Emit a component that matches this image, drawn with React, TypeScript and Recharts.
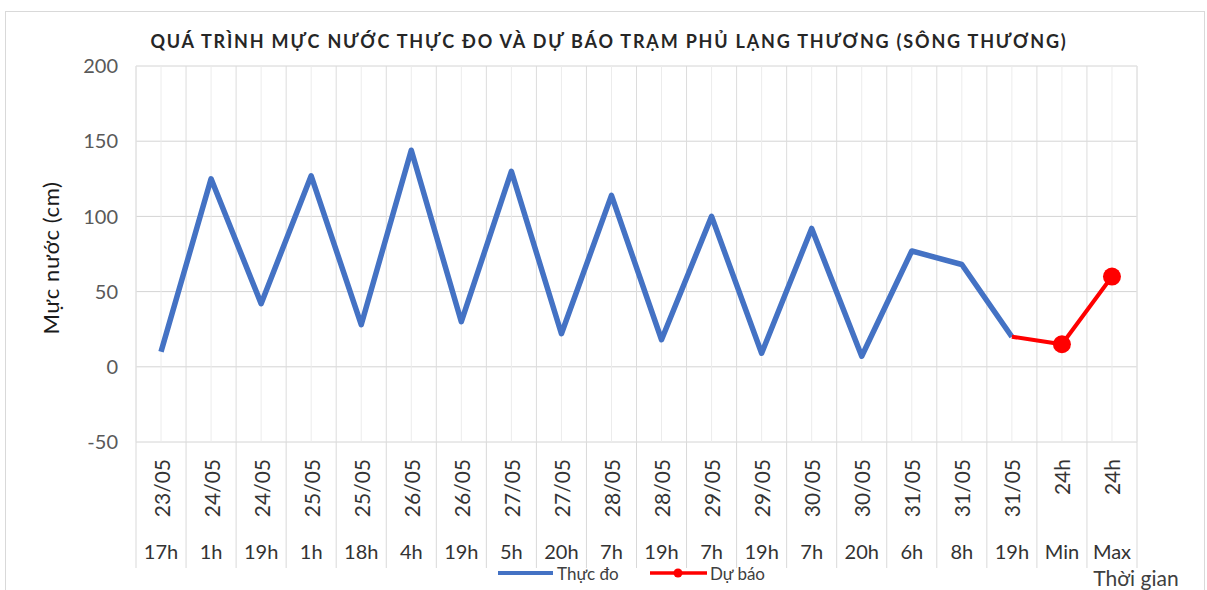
import React from "react";
import {
  LineChart,
  Line,
  XAxis,
  YAxis,
  CartesianGrid,
} from "recharts";

// chart values
const dates = [
  "23/05", "24/05", "24/05", "25/05", "25/05", "26/05", "26/05", "27/05",
  "27/05", "28/05", "28/05", "29/05", "29/05", "30/05", "30/05", "31/05",
  "31/05", "31/05", "24h", "24h",
];
const hours = [
  "17h", "1h", "19h", "1h", "18h", "4h", "19h", "5h", "20h", "7h",
  "19h", "7h", "19h", "7h", "20h", "6h", "8h", "19h", "Min", "Max",
];
const thucDo: (number | null)[] = [
  10, 125, 42, 127, 28, 144, 30, 130, 22, 114,
  18, 100, 9, 92, 7, 77, 68, 20, null, null,
];
const duBao: (number | null)[] = [
  null, null, null, null, null, null, null, null, null, null,
  null, null, null, null, null, null, null, 20, 15, 60,
];
const yTicks = [-50, 0, 50, 100, 150, 200];

const data = dates.map((d, i) => ({
  key: `${d} ${hours[i]}`,
  date: d,
  hour: hours[i],
  thucDo: thucDo[i],
  duBao: duBao[i],
}));

const W = 1207;
const H = 590;
const margin = { top: 66, right: 70, left: 76, bottom: 22 };
const Y_AXIS_W = 60;
const X_AXIS_H = 126;
const FONT = "Lato, 'Open Sans', sans-serif";
const plotW = W - margin.left - Y_AXIS_W - margin.right;
const band = plotW / data.length;

const DateHourTick = (props: any) => {
  const { x, y, index } = props;
  const last = index === data.length - 1;
  return (
    <g>
      <line x1={x - band / 2} y1={y} x2={x - band / 2} y2={y + X_AXIS_H} stroke="#d9d9d9" />
      {last && (
        <line x1={x + band / 2} y1={y} x2={x + band / 2} y2={y + X_AXIS_H} stroke="#d9d9d9" />
      )}
      <text
        transform={`translate(${x},${y + 17}) rotate(-90)`}
        textAnchor="end"
        dominantBaseline="central"
        fontSize={21}
        fontFamily={FONT}
        fill="#333"
      >
        {dates[index]}
      </text>
      <text
        x={x}
        y={y + 109}
        textAnchor="middle"
        dominantBaseline="central"
        fontSize={20}
        fontFamily={FONT}
        fill="#333"
      >
        {hours[index]}
      </text>
    </g>
  );
};

const ForecastDot = (props: any) => {
  const { cx, cy, payload, index } = props;
  if (payload.thucDo != null || cx == null) return <g key={`d${index}`} />;
  return <circle key={`d${index}`} cx={cx} cy={cy} r={9} fill="#FF0000" />;
};

const App = () => {
  return (
    <div style={{ position: "absolute", left: 0, top: 0, width: W, height: H, overflow: "hidden", background: "#fff" }}>
      <div
        style={{
          position: "absolute",
          left: 5,
          top: 11,
          width: 1198,
          height: 600,
          border: "1px solid #d9d9d9",
        }}
      />
      <LineChart width={W} height={H} data={data} margin={margin}>
        <CartesianGrid stroke="#d4d4d4" vertical={false} />
        <CartesianGrid stroke="#ececec" horizontal={false} />
        <CartesianGrid
          stroke="#dcdcdc"
          horizontal={false}
          verticalCoordinatesGenerator={({ offset }: any) =>
            data.map((_, i) => offset.left + i * (offset.width / data.length)).concat(offset.left + offset.width)
          }
        />
        <XAxis
          dataKey="key"
          interval={0}
          height={X_AXIS_H}
          padding={{ left: band / 2, right: band / 2 }}
          tickSize={0}
          tickMargin={0}
          axisLine={false}
          tickLine={false}
          tick={<DateHourTick />}
        />
        <YAxis
          type="number"
          domain={[-50, 200]}
          ticks={yTicks}
          width={Y_AXIS_W}
          axisLine={false}
          tickLine={false}
          tickSize={0}
          tickMargin={18}
          tick={{ fontSize: 20, fontFamily: FONT, fill: "#595959" }}
        />
        <Line
          dataKey="thucDo"
          name="Thực đo"
          stroke="#4472C4"
          strokeWidth={5.5}
          dot={false}
          strokeLinejoin="round"
          isAnimationActive={false}
        />
        <Line
          dataKey="duBao"
          name="Dự báo"
          stroke="#FF0000"
          strokeWidth={4}
          dot={ForecastDot}
          activeDot={false}
          isAnimationActive={false}
        />
      </LineChart>
      <svg
        width={W}
        height={H}
        style={{ position: "absolute", left: 0, top: 0, pointerEvents: "none" }}
      >
        <text
          x={609}
          y={41}
          textAnchor="middle"
          dominantBaseline="central"
          fontSize={18}
          fontWeight="bold"
          letterSpacing={1.8}
          fontFamily={FONT}
          fill="#262626"
        >
          QUÁ TRÌNH MỰC NƯỚC THỰC ĐO VÀ DỰ BÁO TRẠM PHỦ LẠNG THƯƠNG (SÔNG THƯƠNG)
        </text>
        <text
          transform="translate(50,258) rotate(-90)"
          textAnchor="middle"
          dominantBaseline="central"
          fontSize={22}
          letterSpacing={0.6}
          fontFamily={FONT}
          fill="#1a1a1a"
        >
          Mực nước (cm)
        </text>
        <text x={1136} y={577} textAnchor="middle" dominantBaseline="central" fontSize={21} fontFamily={FONT} fill="#404040">
          Thời gian
        </text>
        <line x1={498} y1={573} x2={553} y2={573} stroke="#4472C4" strokeWidth={4} />
        <text x={557} y={573} dominantBaseline="central" fontSize={17} fontFamily={FONT} fill="#404040">
          Thực đo
        </text>
        <line x1={650} y1={573} x2={707} y2={573} stroke="#FF0000" strokeWidth={3.5} />
        <circle cx={678} cy={573} r={4.5} fill="#FF0000" />
        <text x={710} y={573} dominantBaseline="central" fontSize={17} fontFamily={FONT} fill="#404040">
          Dự báo
        </text>
      </svg>
    </div>
  );
};

export default App;
